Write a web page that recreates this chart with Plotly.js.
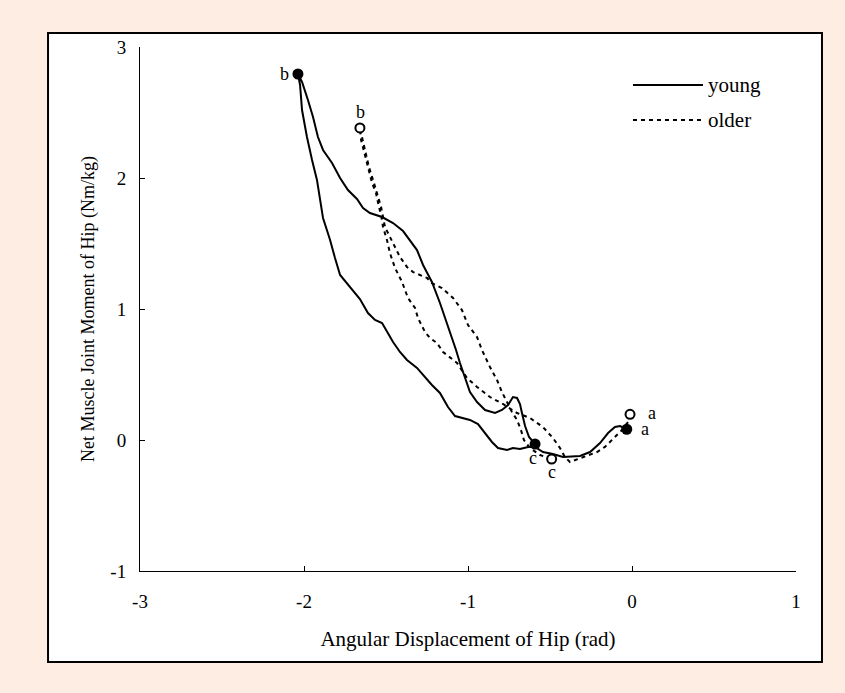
<!DOCTYPE html>
<html><head><meta charset="utf-8">
<script src="https://cdn.plot.ly/plotly-3.0.1.min.js"></script>
<style>html,body{margin:0;padding:0;background:#fdede3;} #chart{width:845px;height:693px;}</style>
</head><body><div id="chart"></div>
<script>
// Young group: trajectory a -> bottom -> outer branch -> b -> inner branch -> c
const youngX = [-0.032,-0.073,-0.104,-0.146,-0.195,-0.256,-0.317,-0.421,-0.482,-0.543,-0.591,-0.634,-0.683,-0.726,-0.762,-0.817,-0.854,-0.896,-0.939,-0.988,-1.037,-1.079,-1.122,-1.171,-1.220,-1.262,-1.311,-1.372,-1.415,-1.457,-1.524,-1.567,-1.610,-1.659,-1.720,-1.780,-1.811,-1.841,-1.884,-1.902,-1.921,-1.951,-1.982,-2.012,-2.024,-2.037,
  -2.012,-1.976,-1.945,-1.915,-1.884,-1.829,-1.780,-1.732,-1.677,-1.640,-1.598,-1.524,-1.457,-1.396,-1.341,-1.311,-1.274,-1.220,-1.171,-1.128,-1.091,-1.073,-1.049,-1.018,-0.988,-0.945,-0.896,-0.835,-0.793,-0.756,-0.726,-0.701,-0.683,-0.671,-0.652,-0.628,-0.591];
const youngY = [0.082,0.107,0.099,0.053,-0.023,-0.092,-0.122,-0.130,-0.107,-0.092,-0.053,-0.053,-0.069,-0.061,-0.076,-0.061,-0.015,0.053,0.122,0.153,0.168,0.183,0.252,0.359,0.420,0.481,0.550,0.611,0.672,0.748,0.893,0.916,0.969,1.076,1.168,1.260,1.389,1.527,1.695,1.832,1.985,2.137,2.313,2.519,2.710,2.794,
  2.733,2.595,2.466,2.313,2.214,2.115,2.000,1.908,1.840,1.771,1.733,1.702,1.656,1.595,1.504,1.450,1.336,1.206,1.046,0.893,0.763,0.687,0.588,0.473,0.366,0.290,0.229,0.206,0.229,0.267,0.328,0.321,0.275,0.206,0.107,0.023,-0.031];

// Older group
const olderX = [-0.012,-0.024,-0.067,-0.116,-0.165,-0.213,-0.274,-0.335,-0.378,-0.409,-0.439,-0.482,-0.543,-0.622,-0.701,-0.787,-0.866,-0.945,-1.006,-1.067,-1.152,-1.189,-1.232,-1.262,-1.305,-1.323,-1.366,-1.402,-1.445,-1.476,-1.494,-1.518,-1.530,-1.543,-1.561,-1.585,-1.610,-1.634,-1.652,-1.659,
  -1.646,-1.628,-1.604,-1.579,-1.549,-1.530,-1.518,-1.506,-1.488,-1.457,-1.415,-1.372,-1.335,-1.250,-1.220,-1.159,-1.091,-1.037,-1.000,-0.945,-0.915,-0.866,-0.823,-0.793,-0.762,-0.732,-0.701,-0.677,-0.659,-0.622,-0.561,-0.490];
const olderY = [0.196,0.137,0.069,0.008,-0.053,-0.092,-0.122,-0.153,-0.168,-0.130,-0.061,0.015,0.099,0.168,0.206,0.275,0.328,0.405,0.473,0.588,0.672,0.740,0.779,0.824,0.931,1.008,1.084,1.206,1.313,1.427,1.527,1.626,1.718,1.779,1.885,1.962,2.084,2.191,2.290,2.382,
  2.313,2.198,2.084,1.985,1.870,1.779,1.702,1.626,1.580,1.504,1.397,1.321,1.282,1.237,1.198,1.160,1.084,0.992,0.878,0.786,0.687,0.557,0.458,0.366,0.290,0.214,0.153,0.076,0.000,-0.061,-0.115,-0.145];

// Marked events a, b, c
const pointLabels = ['a', 'b', 'c'];
const youngPtsX = [-0.032, -2.037, -0.591];
const youngPtsY = [0.082, 2.794, -0.031];
const olderPtsX = [-0.012, -1.659, -0.490];
const olderPtsY = [0.196, 2.382, -0.145];

const xTicks = [-3, -2, -1, 0, 1];
const yTicks = [-1, 0, 1, 2, 3];
const seriesNames = ['young', 'older'];
const xTitle = 'Angular Displacement of Hip (rad)';
const yTitle = 'Net Muscle Joint Moment of Hip (Nm/kg)';

const FONT = '"Liberation Serif", "Times New Roman", serif';
const DOT = '4px,4px';

const traces = [
  {x: youngX, y: youngY, mode: 'lines', line: {color: '#000', width: 2}, name: seriesNames[0], hoverinfo: 'skip'},
  {x: olderX, y: olderY, mode: 'lines', line: {color: '#000', width: 2, dash: DOT}, name: seriesNames[1], hoverinfo: 'skip'},
  {x: youngPtsX, y: youngPtsY, mode: 'markers', marker: {color: '#000', size: 11}, hoverinfo: 'skip'},
  {x: olderPtsX, y: olderPtsY, mode: 'markers', marker: {color: '#fff', size: 9, line: {color: '#000', width: 2}}, hoverinfo: 'skip'}
];

// label offsets in pixels (style)
const youngOff = [[18, 0], [-13, 0], [-2, -14]];
const olderOff = [[22, 1], [1, 16], [0, -13]];
const annotations = [];
pointLabels.forEach((t, i) => {
  annotations.push({x: youngPtsX[i], y: youngPtsY[i], text: t, showarrow: false, xshift: youngOff[i][0], yshift: youngOff[i][1], font: {family: FONT, size: 18, color: '#000'}});
  annotations.push({x: olderPtsX[i], y: olderPtsY[i], text: t, showarrow: false, xshift: olderOff[i][0], yshift: olderOff[i][1], font: {family: FONT, size: 18, color: '#000'}});
});
// manual legend
const legY = [0.9275, 0.8607];
seriesNames.forEach((n, i) => {
  annotations.push({xref: 'paper', yref: 'paper', x: 0.8629, y: legY[i], xanchor: 'left', yanchor: 'middle', text: n, showarrow: false, font: {family: FONT, size: 21, color: '#000'}});
});

const shapes = [
  {type: 'rect', xref: 'paper', yref: 'paper', x0: -0.1402, x1: 1.0396, y0: -0.1737, y1: 1.0267, fillcolor: '#fff', line: {color: '#000', width: 2}, layer: 'below'},
  {type: 'line', xref: 'paper', yref: 'paper', x0: 0.7515, x1: 0.8582, y0: legY[0], y1: legY[0], line: {color: '#000', width: 2}},
  {type: 'line', xref: 'paper', yref: 'paper', x0: 0.7515, x1: 0.8582, y0: legY[1], y1: legY[1], line: {color: '#000', width: 2, dash: DOT}}
];

const axisCommon = {
  showgrid: false, zeroline: false, showline: true, linecolor: '#000', linewidth: 1,
  ticks: 'inside', ticklen: 5, tickcolor: '#000', tickwidth: 1,
  tickfont: {family: FONT, size: 19, color: '#000'}, fixedrange: true
};

const layout = {
  width: 845, height: 693,
  margin: {l: 140, r: 49, t: 47, b: 122},
  paper_bgcolor: '#fdede3', plot_bgcolor: 'rgba(0,0,0,0)',
  showlegend: false,
  xaxis: Object.assign({}, axisCommon, {range: [-3, 1], tickvals: xTicks, ticktext: xTicks.map(String), ticklabelstandoff: 13,
    title: {text: xTitle, font: {family: FONT, size: 21, color: '#000'}, standoff: 20}}),
  yaxis: Object.assign({}, axisCommon, {range: [-1, 3], tickvals: yTicks, ticktext: yTicks.map(String), ticklabelstandoff: 9,
    title: {text: yTitle, font: {family: FONT, size: 18, color: '#000'}, standoff: 11}}),
  annotations: annotations,
  shapes: shapes
};

Plotly.newPlot('chart', traces, layout, {displayModeBar: false, staticPlot: true});
</script>
</body></html>
